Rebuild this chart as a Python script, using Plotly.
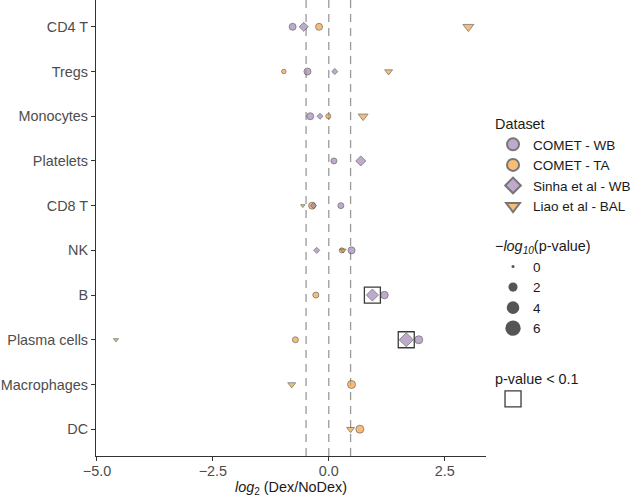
import numpy as np
import plotly.graph_objects as go

# ---- data ----
categories = ["CD4 T", "Tregs", "Monocytes", "Platelets", "CD8 T", "NK", "B",
              "Plasma cells", "Macrophages", "DC"]

# COMET - WB (purple circles)
wb_cells = ["CD4 T", "Tregs", "Monocytes", "Platelets", "CD8 T", "NK", "B", "Plasma cells"]
wb_lfc = [-0.78, -0.46, -0.40, 0.11, 0.26, 0.49, 1.20, 1.94]
wb_nlp = [1.07, 1.07, 1.07, 0.72, 0.72, 1.07, 1.26, 1.47]

# COMET - TA (orange circles)
ta_cells = ["CD4 T", "Tregs", "Monocytes", "CD8 T", "NK", "B", "Plasma cells", "Macrophages", "DC"]
ta_lfc = [-0.21, -0.97, -0.01, -0.36, 0.28, -0.28, -0.72, 0.49, 0.67]
ta_nlp = [1.07, 0.30, 0.43, 1.07, 0.43, 0.72, 0.72, 1.47, 1.47]

# Sinha et al - WB (purple diamonds)
si_cells = ["CD4 T", "Tregs", "Monocytes", "Platelets", "CD8 T", "NK", "B", "Plasma cells"]
si_lfc = [-0.54, 0.13, -0.19, 0.69, -0.33, -0.26, 0.94, 1.67]
si_nlp = [0.99, 0.30, 0.30, 1.26, 0.30, 0.30, 1.92, 2.70]
si_sig = [False, False, False, False, False, False, True, True]

# Liao et al - BAL (orange triangles)
li_cells = ["CD4 T", "Tregs", "Monocytes", "CD8 T", "NK", "Plasma cells", "Macrophages", "DC"]
li_lfc = [3.01, 1.29, 0.74, -0.56, 0.31, -4.59, -0.80, 0.47]
li_nlp = [1.60, 0.72, 1.26, 0.05, 0.30, 0.15, 0.72, 0.72]

size_breaks = [0, 2, 4, 6]
ref_lines = [-0.49, 0.0, 0.47]
x_ticks = [-5.0, -2.5, 0.0, 2.5]

# ---- style ----
PURPLE = "#A387B8"
ORANGE = "#F4A23E"
EDGE = "#3d3d3d"
FONT = "Liberation Sans, Arial, sans-serif"


def size_scale(v):
    return np.sqrt(9 + 37.5 * np.asarray(v, dtype=float))


fig = go.Figure()

for x in ref_lines:
    fig.add_vline(x=x, line=dict(color="#9a9a9a", width=1.3, dash="8px,6px"), layer="below")

datasets = [
    ("COMET - WB", wb_cells, wb_lfc, wb_nlp, "circle", PURPLE, 1.0),
    ("COMET - TA", ta_cells, ta_lfc, ta_nlp, "circle", ORANGE, 1.0),
    ("Sinha et al - WB", si_cells, si_lfc, si_nlp, "diamond", PURPLE, 1.03),
    ("Liao et al - BAL", li_cells, li_lfc, li_nlp, "triangle-down", ORANGE, 1.15),
]
for name, cells, lfc, nlp, sym, col, k in datasets:
    fig.add_trace(go.Scatter(
        x=lfc, y=cells, mode="markers", name=name, legend="legend",
        marker=dict(symbol=sym, color=col, size=size_scale(nlp) * k,
                    line=dict(color=EDGE, width=0.8)),
        cliponaxis=False,
    ))

# significance boxes
sig_x = [x for x, s in zip(si_lfc, si_sig) if s]
sig_y = [c for c, s in zip(si_cells, si_sig) if s]
fig.add_trace(go.Scatter(
    x=sig_x, y=sig_y, mode="markers", name=" ", legend="legend3",
    marker=dict(symbol="square-open", size=16, color="#3a3a3a", line=dict(width=1.3)),
))

# size legend
for b in size_breaks:
    fig.add_trace(go.Scatter(
        x=[None], y=[None], mode="markers", name=str(b), legend="legend2",
        marker=dict(symbol="circle", color="#555555", size=float(size_scale(b)),
                    line=dict(width=0)),
    ))

axis_font = dict(family=FONT, size=14.4, color="#4d4d4d")
legend_common = dict(
    bgcolor="rgba(0,0,0,0)", borderwidth=0, xanchor="left", yanchor="top",
    font=dict(family=FONT, size=13.5, color="#1a1a1a"),
)

fig.update_layout(
    width=637, height=497,
    margin=dict(l=96, r=151, t=0, b=41),
    paper_bgcolor="white", plot_bgcolor="white",
    font=dict(family=FONT, size=14.4, color="#1a1a1a"),
    xaxis=dict(
        range=[-5.02, 3.39], tickvals=x_ticks, tickformat=".1f",
        showgrid=False, zeroline=False, showline=True, linecolor="#333333", linewidth=1.1,
        ticks="outside", ticklen=4, tickcolor="#333333", tickfont=axis_font,
        ticklabelstandoff=-2,
        title=dict(text="<i>log</i><sub>2</sub> (Dex/NoDex)",
                   font=dict(family=FONT, size=14.4, color="#1a1a1a"), standoff=2),
        automargin=False,
    ),
    yaxis=dict(
        type="category", categoryorder="array", categoryarray=categories,
        range=[9.6, -0.6],
        showgrid=False, zeroline=False, showline=True, linecolor="#333333", linewidth=1.1,
        ticks="outside", ticklen=4, tickcolor="#333333", tickfont=axis_font,
        automargin=False,
    ),
    legend=dict(legend_common, x=1.018, y=0.758, itemsizing="constant",
                title=dict(text="Dataset", font=dict(family=FONT, size=14.4))),
    legend2=dict(legend_common, x=1.018, y=0.49, itemsizing="trace",
                 title=dict(text="<i>\u2212log<sub>10</sub></i>(p-value)",
                            font=dict(family=FONT, size=14.4))),
    legend3=dict(legend_common, x=1.018, y=0.2, itemsizing="trace",
                 title=dict(text="p-value < 0.1", font=dict(family=FONT, size=14.4))),
)

fig.write_html("out.html", config={"displayModeBar": False},
               post_script="document.body.style.margin='0px';")
